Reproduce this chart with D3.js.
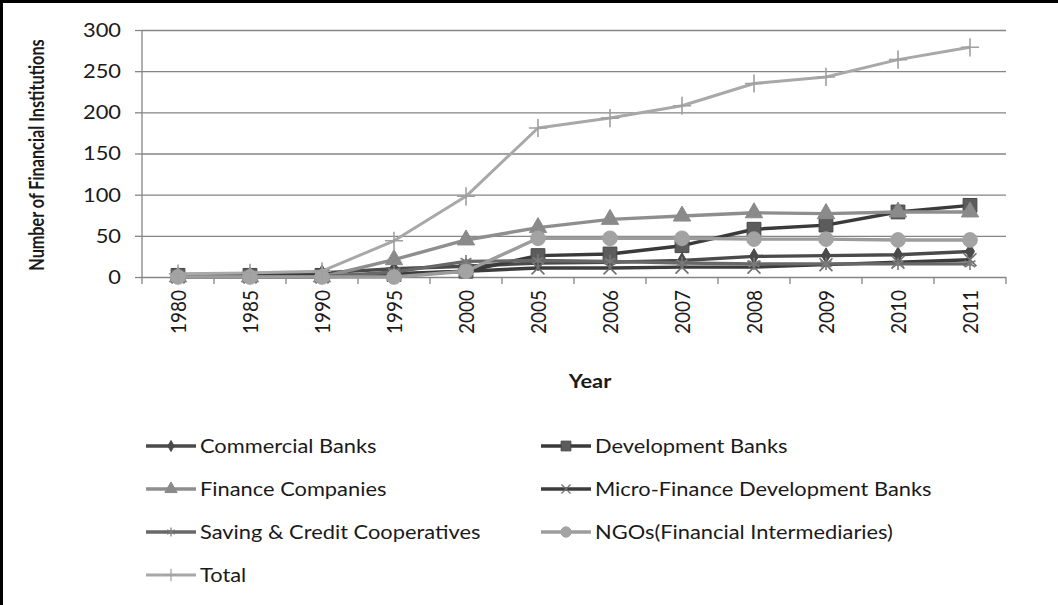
<!DOCTYPE html>
<html>
<head>
<meta charset="utf-8">
<script src="https://cdn.jsdelivr.net/npm/d3@7"></script>
<style>
  html, body { margin: 0; padding: 0; background: #fff; }
  svg { display: block; }
  text { font-family: Lato, "Open Sans", sans-serif; fill: #1a1a1a; }
</style>
</head>
<body>
<svg id="chart" width="1058" height="605"></svg>
<script>
// Financial institutions by type, 1980–2011
const years = ["1980", "1985", "1990", "1995", "2000", "2005", "2006", "2007", "2008", "2009", "2010", "2011"];
const commercialBanks   = [2, 3, 5, 10, 13, 17, 18, 20, 25, 26, 27, 31];
const developmentBanks  = [2, 2, 2, 3, 7, 26, 28, 38, 58, 63, 79, 87];
const financeCompanies  = [0, 0, 0, 21, 45, 60, 70, 74, 78, 77, 79, 79];
const microFinanceBanks = [0, 0, 0, 4, 7, 11, 11, 12, 12, 15, 18, 21];
const savingCoops       = [0, 0, 0, 6, 19, 20, 19, 17, 16, 16, 16, 16];
const ngos              = [0, 0, 0, 0, 7, 47, 47, 47, 46, 46, 45, 45];
const totals            = [4, 5, 7, 44, 98, 181, 193, 208, 235, 243, 264, 279];
const yTicks = [0, 50, 100, 150, 200, 250, 300];

const seriesNames = [
  "Commercial Banks", "Development Banks", "Finance Companies",
  "Micro-Finance Development Banks", "Saving & Credit Cooperatives",
  "NGOs(Financial Intermediaries)", "Total"
];
const seriesValues = [commercialBanks, developmentBanks, financeCompanies,
  microFinanceBanks, savingCoops, ngos, totals];

// Styling per series (grayscale, Excel-like marker set)
const styles = [
  { line: "#4a4a4a", fill: "#4a4a4a", stroke: "#4a4a4a", sym: d3.symbolDiamond, size: 70,  w: 3.4 },
  { line: "#3a3a3a", fill: "#5c5c5c", stroke: "#474747", sym: d3.symbolSquare,  size: 190, w: 3.4 },
  { line: "#8e8e8e", fill: "#8a8a8a", stroke: "#8a8a8a", sym: d3.symbolTriangle, size: 130, w: 3.4 },
  { line: "#3c3c3c", fill: "none",    stroke: "#6e6e6e", sym: d3.symbolTimes,   size: 110, w: 3.4, strokeSym: true },
  { line: "#686868", fill: "none",    stroke: "#7a7a7a", sym: d3.symbolAsterisk, size: 110, w: 3.4, strokeSym: true },
  { line: "#9c9c9c", fill: "#a3a3a3", stroke: "#a3a3a3", sym: d3.symbolCircle,  size: 170, w: 3.4 },
  { line: "#a8a8a8", fill: "none",    stroke: "#a0a0a0", sym: d3.symbolPlus,    size: 110, w: 3.0, strokeSym: true }
];

const TEXT_STRETCH = 1.15;
const svg = d3.select("#chart");

// Frame
svg.append("rect").attr("width", 1058).attr("height", 605).attr("fill", "#fff");
svg.append("line").attr("x1", 0).attr("x2", 1058).attr("y1", 1.5).attr("y2", 1.5)
  .attr("stroke", "#000").attr("stroke-width", 3);
svg.append("line").attr("x1", 1.5).attr("x2", 1.5).attr("y1", 0).attr("y2", 605)
  .attr("stroke", "#000").attr("stroke-width", 3);

const plot = { left: 142, right: 1006, top: 30, bottom: 277 };
const x = d3.scaleBand().domain(years).range([plot.left, plot.right]).padding(0);
const cx = d => x(d) + x.bandwidth() / 2;
const y = d3.scaleLinear().domain([0, 300]).range([plot.bottom, plot.top]);

const gridColor = "#858585";

// Horizontal gridlines + left ticks
svg.append("g")
  .attr("transform", `translate(${plot.left},0)`)
  .call(d3.axisLeft(y).tickValues(yTicks).tickSize(-(plot.right - plot.left)).tickFormat(""))
  .call(g => g.select(".domain").remove())
  .call(g => g.selectAll(".tick line").attr("stroke", gridColor).attr("stroke-width", 1.3));
svg.append("g")
  .attr("transform", `translate(${plot.left},0)`)
  .call(d3.axisLeft(y).tickValues(yTicks).tickSize(7).tickFormat(""))
  .call(g => g.select(".domain").remove())
  .call(g => g.selectAll(".tick line").attr("stroke", gridColor).attr("stroke-width", 1.3));

// Vertical axis line
svg.append("line").attr("x1", plot.left).attr("x2", plot.left)
  .attr("y1", plot.top).attr("y2", plot.bottom + 7)
  .attr("stroke", gridColor).attr("stroke-width", 1.3);

// Category boundary ticks under the baseline
const boundaries = years.map(d => x(d)).concat([plot.right]);
svg.append("g").selectAll("line").data(boundaries.slice(1)).join("line")
  .attr("x1", d => d).attr("x2", d => d)
  .attr("y1", plot.bottom).attr("y2", plot.bottom + 7)
  .attr("stroke", gridColor).attr("stroke-width", 1.3);

// Y tick labels
svg.append("g").selectAll("text").data(yTicks).join("text")
  .attr("transform", d => `translate(121,${y(d)}) scale(${TEXT_STRETCH},1)`)
  .attr("text-anchor", "end").attr("dy", "0.36em")
  .attr("font-size", 19).text(d => d);

// X tick labels (rotated)
svg.append("g").selectAll("text").data(years).join("text")
  .attr("transform", d => `translate(${cx(d)},290) scale(${TEXT_STRETCH},1) rotate(-90)`)
  .attr("text-anchor", "end").attr("dy", "0.36em")
  .attr("font-size", 19).text(d => d);

// Axis titles
svg.append("text")
  .attr("transform", `translate(590,388) scale(${TEXT_STRETCH},1)`)
  .attr("text-anchor", "middle").attr("font-weight", "bold").attr("font-size", 19)
  .text("Year");
svg.append("text")
  .attr("transform", `translate(44,155) scale(1.25,1) rotate(-90)`)
  .attr("text-anchor", "middle").attr("font-weight", "bold").attr("font-size", 16.2)
  .text("Number of Financial Institutions");

// Series lines and markers
const lineGen = d3.line().x(d => cx(d.year)).y(d => y(d.value));
const symbolPath = (s, k = 1) => d3.symbol().type(s.sym).size(s.size * k)();

seriesValues.forEach((vals, i) => {
  const s = styles[i];
  const pts = years.map((yr, j) => ({ year: yr, value: vals[j] }));
  const g = svg.append("g");
  g.append("path").datum(pts).attr("d", lineGen)
    .attr("fill", "none").attr("stroke", s.line).attr("stroke-width", s.w)
    .attr("stroke-linejoin", "round");
  g.selectAll("path.m").data(pts).join("path").attr("class", "m")
    .attr("transform", d => `translate(${cx(d.year)},${y(d.value)})`)
    .attr("d", symbolPath(s))
    .attr("fill", s.strokeSym ? "none" : s.fill)
    .attr("stroke", s.stroke).attr("stroke-width", s.strokeSym ? 1.6 : 1);
});

// Legend (smaller markers than in the plot)
const legendCols = [146, 541];
const legendRows = [446, 489, 532, 575];
const legend = svg.append("g");
seriesNames.forEach((name, i) => {
  const s = styles[i];
  const lx = legendCols[i % 2], ly = legendRows[Math.floor(i / 2)];
  const g = legend.append("g").attr("transform", `translate(${lx},${ly})`);
  g.append("line").attr("x1", 0).attr("x2", 50).attr("y1", 0).attr("y2", 0)
    .attr("stroke", s.line).attr("stroke-width", s.w);
  g.append("path").attr("transform", "translate(25,0)")
    .attr("d", symbolPath(s, 0.5))
    .attr("fill", s.strokeSym ? "none" : s.fill)
    .attr("stroke", s.stroke).attr("stroke-width", s.strokeSym ? 1.2 : 1);
  g.append("text")
    .attr("transform", `translate(54,0) scale(${TEXT_STRETCH},1)`)
    .attr("dy", "0.36em").attr("font-size", 19).text(name);
});
</script>
</body>
</html>
